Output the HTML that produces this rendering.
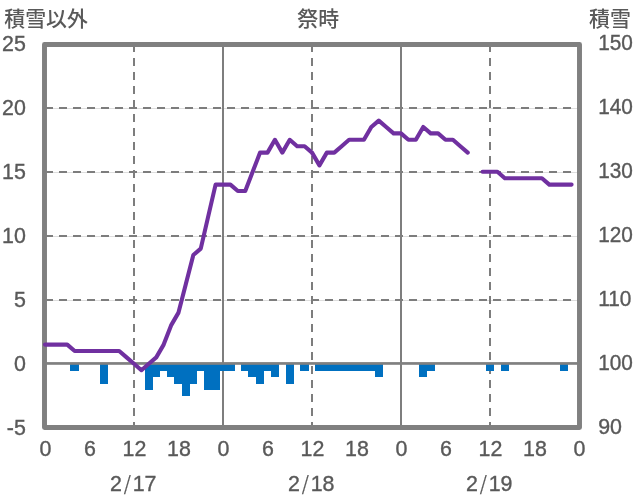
<!DOCTYPE html>
<html lang="ja"><head><meta charset="utf-8"><title>積雪</title>
<style>html,body{margin:0;padding:0;background:#fff}svg{display:block}</style></head>
<body>
<svg width="636" height="501" viewBox="0 0 636 501">
<rect width="636" height="501" fill="#fff"/>
<g stroke="#dedede" stroke-width="1" fill="none">
<path d="M47 108.5H577"/>
<path d="M47 172.5H577"/>
<path d="M47 236.5H577"/>
<path d="M47 300.5H577"/>
</g>
<g stroke="#7d7d7d" stroke-width="2" stroke-dasharray="8 6" fill="none">
<path d="M45 108H579.5"/>
<path d="M45 172H579.5"/>
<path d="M45 236H579.5"/>
<path d="M45 300H579.5"/>
<path d="M134 44V427.5"/>
<path d="M312 44V427.5"/>
<path d="M490 44V427.5"/>
</g>
<g stroke="#7e7e7e" stroke-width="2" fill="none">
<path d="M223 44.5V427.5"/>
<path d="M401 44.5V427.5"/>
</g>
<path d="M70 363H79V371H70zM100 363H108V384H100zM145 363H153V390H145zM152 363H160V377H152zM159 363H168V371H159zM167 363H175V377H167zM174 363H183V384H174zM182 363H190V396H182zM189 363H197V384H189zM197 363H205V371H197zM204 363H212V390H204zM211 363H220V390H211zM219 363H227V371H219zM226 363H235V371H226zM241 363H249V371H241zM248 363H257V377H248zM256 363H264V384H256zM263 363H272V371H263zM271 363H279V377H271zM286 363H294V384H286zM300 363H309V371H300zM315 363H324V371H315zM323 363H331V371H323zM330 363H338V371H330zM337 363H346V371H337zM345 363H353V371H345zM352 363H361V371H352zM360 363H368V371H360zM367 363H375V371H367zM375 363H383V377H375zM419 363H427V377H419zM426 363H435V371H426zM486 363H494V371H486zM501 363H509V371H501zM560 363H568V371H560z" fill="#0070c0"/>
<rect x="44.5" y="362.1" width="535.0" height="2.7" fill="#808080"/>
<rect x="44.5" y="44.5" width="535.0" height="383.0" fill="none" stroke="#808080" stroke-width="4.95" stroke-linejoin="round"/>
<path d="M45.00 344.60 L52.42 344.60 L59.83 344.60 L67.25 344.60 L74.67 351.00 L82.08 351.00 L89.50 351.00 L96.92 351.00 L104.33 351.00 L111.75 351.00 L119.17 351.00 L126.58 357.40 L134.00 363.80 L141.42 370.20 L148.83 363.80 L156.25 357.40 L163.67 344.60 L171.08 325.40 L178.50 312.60 L185.92 283.80 L193.33 255.00 L200.75 248.60 L208.17 216.60 L215.58 184.60 L223.00 184.60 L230.42 184.60 L237.83 191.00 L245.25 191.00 L252.67 171.80 L260.08 152.60 L267.50 152.60 L274.92 139.80 L282.33 152.60 L289.75 139.80 L297.17 146.20 L304.58 146.20 L312.00 152.60 L319.42 165.40 L326.83 152.60 L334.25 152.60 L341.67 146.20 L349.08 139.80 L356.50 139.80 L363.92 139.80 L371.33 127.00 L378.75 120.60 L386.17 127.00 L393.58 133.40 L401.00 133.40 L408.42 139.80 L415.83 139.80 L423.25 127.00 L430.67 133.40 L438.08 133.40 L445.50 139.80 L452.92 139.80 L460.33 146.20 L467.75 152.60M482.58 171.80 L490.00 171.80 L497.42 171.80 L504.83 178.20 L512.25 178.20 L519.67 178.20 L527.08 178.20 L534.50 178.20 L541.92 178.20 L549.33 184.60 L556.75 184.60 L564.17 184.60 L571.58 184.60" fill="none" stroke="#7030a0" stroke-width="4.1" stroke-linecap="round" stroke-linejoin="round"/>
<g font-family="'Liberation Sans', 'Noto Sans CJK JP', sans-serif" font-size="20.5" fill="#595959" stroke="#595959" stroke-width="0.35">
<text transform="translate(25.90 50.50) scale(1.045 1.1)" text-anchor="end">25</text>
<text transform="translate(25.90 114.50) scale(1.045 1.1)" text-anchor="end">20</text>
<text transform="translate(25.90 178.50) scale(1.045 1.1)" text-anchor="end">15</text>
<text transform="translate(25.90 242.50) scale(1.045 1.1)" text-anchor="end">10</text>
<text transform="translate(25.90 306.50) scale(1.045 1.1)" text-anchor="end">5</text>
<text transform="translate(25.90 370.50) scale(1.045 1.1)" text-anchor="end">0</text>
<text transform="translate(25.90 434.50) scale(1.045 1.1)" text-anchor="end">-5</text>
<text transform="translate(598.20 50.30) scale(1.015 1.1)" text-anchor="start">150</text>
<text transform="translate(598.20 114.30) scale(1.015 1.1)" text-anchor="start">140</text>
<text transform="translate(598.20 178.30) scale(1.015 1.1)" text-anchor="start">130</text>
<text transform="translate(598.20 242.30) scale(1.015 1.1)" text-anchor="start">120</text>
<text transform="translate(598.20 306.30) scale(1.015 1.1)" text-anchor="start">110</text>
<text transform="translate(598.20 370.30) scale(1.015 1.1)" text-anchor="start">100</text>
<text transform="translate(598.20 434.30) scale(1.045 1.1)" text-anchor="start">90</text>
<text transform="translate(45.40 455.50) scale(1.045 1.1)" text-anchor="middle">0</text>
<text transform="translate(89.90 455.50) scale(1.045 1.1)" text-anchor="middle">6</text>
<text transform="translate(134.40 455.50) scale(1.045 1.1)" text-anchor="middle">12</text>
<text transform="translate(178.90 455.50) scale(1.045 1.1)" text-anchor="middle">18</text>
<text transform="translate(223.40 455.50) scale(1.045 1.1)" text-anchor="middle">0</text>
<text transform="translate(267.90 455.50) scale(1.045 1.1)" text-anchor="middle">6</text>
<text transform="translate(312.40 455.50) scale(1.045 1.1)" text-anchor="middle">12</text>
<text transform="translate(356.90 455.50) scale(1.045 1.1)" text-anchor="middle">18</text>
<text transform="translate(401.40 455.50) scale(1.045 1.1)" text-anchor="middle">0</text>
<text transform="translate(445.90 455.50) scale(1.045 1.1)" text-anchor="middle">6</text>
<text transform="translate(490.40 455.50) scale(1.045 1.1)" text-anchor="middle">12</text>
<text transform="translate(534.90 455.50) scale(1.045 1.1)" text-anchor="middle">18</text>
<text transform="translate(579.40 455.50) scale(1.045 1.1)" text-anchor="middle">0</text>
<text transform="translate(133.30 490.90) scale(1.045 1.1)" text-anchor="middle">2<tspan dx="1.6" font-size="17.8" font-family="'Noto Sans CJK JP', sans-serif" stroke-width="0.15">/</tspan><tspan dx="1.6">17</tspan></text>
<text transform="translate(311.30 490.90) scale(1.045 1.1)" text-anchor="middle">2<tspan dx="1.6" font-size="17.8" font-family="'Noto Sans CJK JP', sans-serif" stroke-width="0.15">/</tspan><tspan dx="1.6">18</tspan></text>
<text transform="translate(489.30 490.90) scale(1.045 1.1)" text-anchor="middle">2<tspan dx="1.6" font-size="17.8" font-family="'Noto Sans CJK JP', sans-serif" stroke-width="0.15">/</tspan><tspan dx="1.6">19</tspan></text>
</g>
<g font-family="'Liberation Sans', 'Noto Sans CJK JP', sans-serif" font-size="20.9" font-weight="500" fill="#595959">
<text x="4.3" y="26.2">積雪以外</text>
<text x="318.2" y="26.2" text-anchor="middle">祭時</text>
<text x="589" y="26.2">積雪</text>
</g>
</svg>
</body></html>
